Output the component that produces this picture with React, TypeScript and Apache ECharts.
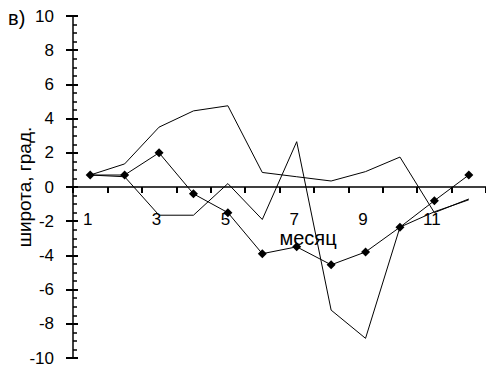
import React, { useEffect, useRef } from "react";
import * as echarts from "echarts";

// Месяцы по оси X
const months = ["1", "2", "3", "4", "5", "6", "7", "8", "9", "10", "11", "12"];

// Среднемесячные смещения широты, град.
const markedSeries = [0.7, 0.7, 2.0, -0.4, -1.5, -3.9, -3.5, -4.55, -3.8, -2.35, -0.8, 0.7];
const upperSeries = [0.7, 1.35, 3.5, 4.45, 4.75, 0.85, 0.6, 0.35, 0.9, 1.75, -1.5, -0.7];
const lowerSeries = [0.7, 0.6, -1.65, -1.65, 0.2, -1.9, 2.65, -7.2, -8.85, -2.35, -1.45, -0.75];

// Шкала широты
const latMin = -10;
const latMax = 10;
const latStep = 2;

const FONT = "'Liberation Sans', Arial, sans-serif";
const INK = "#000";

const GRID_TOP = 16;
const GRID_BOTTOM = 13;
const CHART_H = 371;

export default function App() {
  const ref = useRef<HTMLDivElement>(null);

  useEffect(() => {
    if (!ref.current) return;
    const chart = echarts.init(ref.current, null, { renderer: "svg" });

    // расстояние от нижнего края сетки до нулевой линии
    const plotH = CHART_H - GRID_TOP - GRID_BOTTOM;
    const zeroLift = plotH * (0 - latMin) / (latMax - latMin);

    const thinLine = (data: number[]) => ({
      type: "line" as const,
      data,
      yAxisIndex: 0,
      symbol: "none",
      lineStyle: { color: "#000", width: 1 },
      z: 2,
    });

    chart.setOption({
      animation: false,
      backgroundColor: "#fff",
      grid: {
        left: 73,
        right: 0,
        top: GRID_TOP,
        bottom: GRID_BOTTOM,
        containLabel: false,
        outerBoundsMode: "none",
      },
      graphic: [
        {
          type: "text",
          x: 8,
          y: 18,
          style: {
            text: "в)",
            fontSize: 20,
            fontFamily: FONT,
            fill: "#000",
            verticalAlign: "middle",
          },
        },
      ],
      xAxis: [
        {
          // линия оси и штрихи на нуле
          type: "category",
          data: months,
          boundaryGap: true,
          axisLine: { show: true, onZero: true, lineStyle: { color: "#000", width: 1.5 } },
          axisTick: { show: true, interval: 0, length: 6, lineStyle: { color: INK, width: 2 } },
          axisLabel: { show: false },
          splitLine: { show: false },
        },
        {
          // подписи месяцев и название оси под нулевой линией
          type: "category",
          data: months,
          boundaryGap: true,
          position: "bottom",
          offset: -zeroLift,
          name: "месяц",
          nameLocation: "middle",
          nameGap: 41,
          nameMoveOverlap: false,
          nameTextStyle: {
            fontSize: 20,
            fontFamily: FONT,
            color: "#000",
            padding: [0, 0, 0, 57],
          },
          axisLine: { show: false, onZero: false },
          axisTick: { show: false },
          axisLabel: {
            interval: 1,
            margin: 24,
            fontSize: 17,
            fontFamily: FONT,
            color: "#000",
            padding: [0, 5, 0, 0],
          },
          splitLine: { show: false },
        },
      ],
      yAxis: [
        {
          type: "value",
          position: "left",
          min: latMin,
          max: latMax,
          interval: latStep,
          name: "широта, град.",
          nameLocation: "middle",
          nameRotate: 90,
          nameGap: 39,
          nameMoveOverlap: false,
          nameTextStyle: { fontSize: 19, fontFamily: FONT, color: "#000" },
          axisLine: { show: true, lineStyle: { color: "#000", width: 1.5 } },
          axisTick: { show: true, length: 7, lineStyle: { color: INK, width: 2 } },
          axisLabel: { margin: 19, fontSize: 17, fontFamily: FONT, color: "#000" },
          splitLine: { show: false },
        },
        {
          type: "value",
          position: "left",
          min: latMin,
          max: latMax,
          interval: latStep,
          axisLine: { show: false },
          axisTick: { show: true, inside: true, length: 5, lineStyle: { color: INK, width: 2 } },
          minorTick: { show: true, splitNumber: 4, length: 4, lineStyle: { color: INK, width: 1.5 } },
          axisLabel: { show: false },
          splitLine: { show: false },
        },
      ],
      series: [
        thinLine(upperSeries),
        thinLine(lowerSeries),
        {
          type: "line",
          data: markedSeries,
          yAxisIndex: 0,
          symbol: "diamond",
          symbolSize: 9,
          itemStyle: { color: "#000" },
          lineStyle: { color: "#000", width: 1 },
          z: 3,
        },
      ],
    });

    return () => chart.dispose();
  }, []);

  return (
    <div
      ref={ref}
      style={{ position: "absolute", left: 0, top: 0, width: 486, height: 371 }}
    />
  );
}
